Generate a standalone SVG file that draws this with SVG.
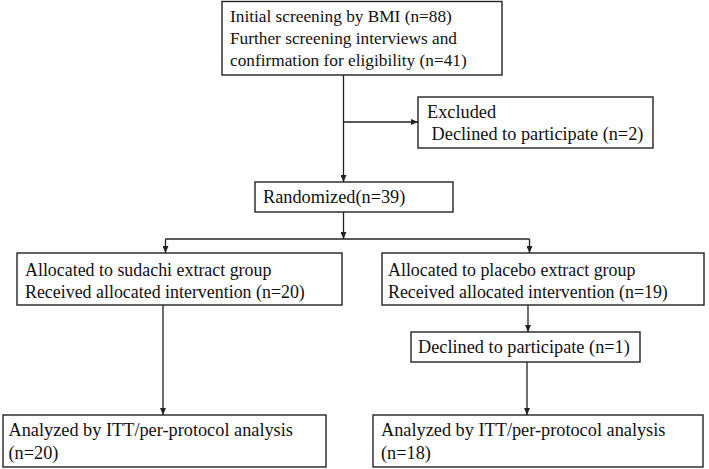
<svg xmlns="http://www.w3.org/2000/svg" width="709" height="469" viewBox="0 0 709 469">
<style>
.box{fill:#fff;stroke:#222;stroke-width:1.4}
.t{font-family:"Liberation Serif","Times New Roman",serif;font-size:18.3px;fill:#111}
.s{font-size:17.3px}
.a{font-size:17.9px}
.c{fill:none;stroke:#222;stroke-width:1.3}
</style>
<defs>
<marker id="ah" viewBox="0 0 10 10" refX="10" refY="5" markerWidth="7" markerHeight="6" markerUnits="userSpaceOnUse" orient="auto" preserveAspectRatio="none">
<path d="M0,0 L10,5 L0,10 z" fill="#222"/>
</marker>
</defs>
<rect width="709" height="469" fill="#fff"/>
<g id="connectors">
<line class="c" x1="343.5" y1="75" x2="343.5" y2="182" marker-end="url(#ah)"/>
<line class="c" x1="343.5" y1="122" x2="418" y2="122" marker-end="url(#ah)"/>
<line class="c" x1="343.5" y1="212" x2="343.5" y2="239" marker-end="url(#ah)"/>
<line class="c" x1="165.5" y1="239" x2="529.5" y2="239"/>
<line class="c" x1="165.5" y1="239" x2="165.5" y2="253" marker-end="url(#ah)"/>
<line class="c" x1="529.5" y1="239" x2="529.5" y2="253" marker-end="url(#ah)"/>
<line class="c" x1="163" y1="305" x2="163" y2="415" marker-end="url(#ah)"/>
<line class="c" x1="528" y1="305" x2="528" y2="332" marker-end="url(#ah)"/>
<line class="c" x1="527" y1="362" x2="527" y2="415" marker-end="url(#ah)"/>
</g>
<g id="screening">
<rect class="box" x="222" y="1.5" width="280" height="73.5"/>
<text class="t s" x="230" y="22">Initial screening by BMI (n=88)</text>
<text class="t s" x="230" y="44">Further screening interviews and</text>
<text class="t s" x="230" y="66">confirmation for eligibility (n=41)</text>
</g>
<g id="excluded">
<rect class="box" x="418" y="97" width="235" height="51"/>
<text class="t" x="427" y="118">Excluded</text>
<text class="t" x="427" y="139.5" xml:space="preserve"> Declined to participate (n=2)</text>
</g>
<g id="randomized">
<rect class="box" x="255" y="182" width="198" height="30"/>
<text class="t" x="263" y="203">Randomized(n=39)</text>
</g>
<g id="sudachi">
<rect class="box" x="17" y="253" width="325" height="52"/>
<text class="t a" x="25" y="276">Allocated to sudachi extract group</text>
<text class="t a" x="25" y="298">Received allocated intervention (n=20)</text>
</g>
<g id="placebo">
<rect class="box" x="382" y="253" width="322" height="52"/>
<text class="t a" x="388" y="276">Allocated to placebo extract group</text>
<text class="t a" x="388" y="298">Received allocated intervention (n=19)</text>
</g>
<g id="declined">
<rect class="box" x="411" y="332" width="229" height="30"/>
<text class="t" x="418" y="353">Declined to participate (n=1)</text>
</g>
<g id="analyzed-sudachi">
<rect class="box" x="3" y="415" width="323" height="52"/>
<text class="t" x="8.5" y="436">Analyzed by ITT/per-protocol analysis</text>
<text class="t" x="8.5" y="459">(n=20)</text>
</g>
<g id="analyzed-placebo">
<rect class="box" x="373" y="415" width="330" height="52"/>
<text class="t" x="381" y="436">Analyzed by ITT/per-protocol analysis</text>
<text class="t" x="381" y="459">(n=18)</text>
</g>
</svg>
